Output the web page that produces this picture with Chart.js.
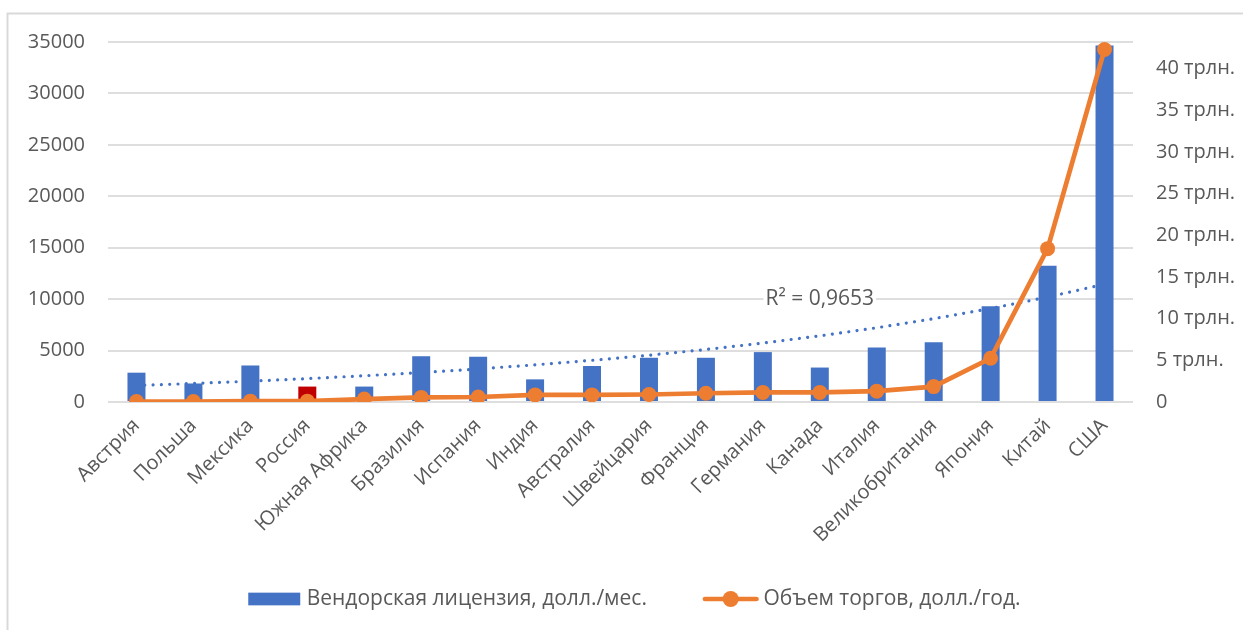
<!DOCTYPE html>
<html>
<head>
<meta charset="utf-8">
<script src="https://cdn.jsdelivr.net/npm/chart.js@4.4.1/dist/chart.umd.min.js"></script>
<style>
  html, body { margin: 0; padding: 0; background: #ffffff; }
  #wrap { width: 1243px; height: 630px; position: relative; }
</style>
</head>
<body>
<div id="wrap"><canvas id="chart" width="1243" height="630"></canvas></div>
<script>
// Countries, ordered by trading volume
const countries = [
  'Австрия', 'Польша', 'Мексика', 'Россия', 'Южная Африка', 'Бразилия',
  'Испания', 'Индия', 'Австралия', 'Швейцария', 'Франция', 'Германия',
  'Канада', 'Италия', 'Великобритания', 'Япония', 'Китай', 'США'
];

// Vendor licence, USD per month (left axis)
const vendorLicense = [
  2850, 1800, 3550, 1500, 1500, 4450,
  4400, 2200, 3500, 4300, 4300, 4850,
  3350, 5300, 5800, 9300, 13250, 34650
];

// Trading volume, USD trillion per year (right axis)
const tradeVolumeTrln = [
  0.05, 0.05, 0.1, 0.1, 0.35, 0.55,
  0.6, 0.85, 0.85, 0.9, 1.05, 1.15,
  1.15, 1.3, 1.85, 5.25, 18.4, 42.3
];

const leftTicks = [0, 5000, 10000, 15000, 20000, 25000, 30000, 35000];
const rightTicks = [0, 5, 10, 15, 20, 25, 30, 35, 40];
const rightUnit = 'трлн.';
const highlighted = 'Россия';
const seriesNames = ['Вендорская лицензия, долл./мес.', 'Объем торгов, долл./год.'];
const trendLabel = 'R² = 0,9653';

const BLUE = '#4472C4';
const RED = '#C00000';
const ORANGE = '#ED7D31';
const TEXT = '#595959';
const GRID = '#dedede';
const FONT = "'Open Sans', 'Noto Sans', sans-serif";

// Exponential least-squares trend (y = a·e^(bx)) over the licence values
function exponentialTrend(values) {
  const n = values.length;
  let sx = 0, sy = 0, sxx = 0, sxy = 0;
  values.forEach((v, i) => {
    const x = i + 1, ly = Math.log(v);
    sx += x; sy += ly; sxx += x * x; sxy += x * ly;
  });
  const b = (n * sxy - sx * sy) / (n * sxx - sx * sx);
  const a = (sy - b * sx) / n;
  return values.map((_, i) => Math.exp(a + b * (i + 1)));
}
const licenseTrend = exponentialTrend(vendorLicense);

// Legend markers
function boxIcon() {
  const c = document.createElement('canvas');
  c.width = 64; c.height = 18;
  const g = c.getContext('2d');
  g.fillStyle = BLUE;
  g.fillRect(10, 2.65, 52, 12.7);
  return c;
}
function lineIcon() {
  const c = document.createElement('canvas');
  c.width = 64; c.height = 18;
  const g = c.getContext('2d');
  g.strokeStyle = ORANGE;
  g.lineWidth = 4.7;
  g.lineCap = 'round';
  g.beginPath(); g.moveTo(10, 9); g.lineTo(61.5, 9); g.stroke();
  g.fillStyle = ORANGE;
  g.beginPath(); g.arc(35.75, 9, 8, 0, Math.PI * 2); g.fill();
  return c;
}

// Outer frame of the chart object
const framePlugin = {
  id: 'frame',
  beforeDraw(chart) {
    const ctx = chart.ctx;
    ctx.save();
    ctx.strokeStyle = '#d9d9d9';
    ctx.lineWidth = 2;
    ctx.beginPath();
    ctx.moveTo(7.5, chart.height);
    ctx.lineTo(7.5, 13.5);
    ctx.lineTo(chart.width, 13.5);
    ctx.stroke();
    ctx.restore();
  }
};

// Trend line caption with a white backing
const trendLabelPlugin = {
  id: 'trendLabel',
  afterDatasetsDraw(chart) {
    const ctx = chart.ctx;
    const x = chart.scales.x.getPixelForValue(countries.indexOf('Канада'));
    const y = chart.scales.y.getPixelForValue(10000);
    ctx.save();
    ctx.font = '21px ' + FONT;
    const w = ctx.measureText(trendLabel).width;
    ctx.fillStyle = '#ffffff';
    ctx.fillRect(x - w / 2 - 2, y - 13, w + 4, 26);
    ctx.fillStyle = TEXT;
    ctx.textAlign = 'center';
    ctx.textBaseline = 'middle';
    ctx.fillText(trendLabel, x, y);
    ctx.restore();
  }
};

// Place the legend row
const legendPlacePlugin = {
  id: 'legendPlace',
  afterLayout(chart) {
    const lg = chart.legend;
    if (!lg) return;
    const w = lg.width, h = lg.height;
    lg.left = 190.2; lg.right = 190.2 + w;
    lg.top = 534.5; lg.bottom = 534.5 + h;
  }
};

new Chart(document.getElementById('chart'), {
  type: 'bar',
  data: {
    labels: countries,
    datasets: [
      {
        type: 'bar',
        label: seriesNames[0],
        data: vendorLicense,
        yAxisID: 'y',
        backgroundColor: countries.map(c => c === highlighted ? RED : BLUE),
        borderWidth: 0,
        categoryPercentage: 1,
        barPercentage: 0.316,
        order: 1
      },
      {
        type: 'line',
        label: seriesNames[1],
        data: tradeVolumeTrln,
        yAxisID: 'y2',
        borderColor: ORANGE,
        backgroundColor: ORANGE,
        borderWidth: 4.7,
        pointRadius: 7.5,
        pointHoverRadius: 7.5,
        pointBorderWidth: 0,
        pointBackgroundColor: ORANGE,
        tension: 0,
        order: 0
      },
      {
        type: 'line',
        label: 'trend',
        data: licenseTrend,
        yAxisID: 'y',
        borderColor: BLUE,
        borderWidth: 3.2,
        borderDash: [0.01, 8.3],
        borderCapStyle: 'round',
        pointRadius: 0,
        fill: false,
        tension: 0,
        order: 2
      }
    ]
  },
  options: {
    responsive: false,
    devicePixelRatio: 1,
    animation: false,
    layout: { padding: { top: 42, left: 0, right: 0, bottom: 0 } },
    plugins: {
      tooltip: { enabled: false },
      legend: {
        position: 'bottom',
        align: 'start',
        labels: {
          usePointStyle: true,
          pointStyleWidth: 52,
          padding: 54,
          color: TEXT,
          font: { family: FONT, size: 21 },
          generateLabels() {
            return [
              { text: seriesNames[0], pointStyle: boxIcon(), fontColor: TEXT, lineWidth: 0, datasetIndex: 0, hidden: false },
              { text: seriesNames[1], pointStyle: lineIcon(), fontColor: TEXT, lineWidth: 0, datasetIndex: 1, hidden: false }
            ];
          }
        }
      }
    },
    scales: {
      x: {
        grid: { display: false },
        border: { display: false },
        ticks: {
          autoSkip: false,
          minRotation: 45,
          maxRotation: 45,
          padding: 4,
          color: TEXT,
          font: { family: FONT, size: 20 }
        },
        afterFit(s) { s.height = 630 - 402 - s.chart.legend.height; }
      },
      y: {
        position: 'left',
        min: 0,
        max: 35000,
        afterBuildTicks(s) { s.ticks = leftTicks.map(v => ({ value: v })); },
        grid: { color: GRID, lineWidth: 2, drawTicks: false },
        border: { display: false },
        ticks: {
          padding: 23,
          color: TEXT,
          font: { family: FONT, size: 20 },
          callback: v => String(v)
        },
        afterFit(s) { s.width = 108; }
      },
      y2: {
        position: 'right',
        min: 0,
        max: 43.2,
        afterBuildTicks(s) { s.ticks = rightTicks.map(v => ({ value: v })); },
        grid: { display: false, drawTicks: false },
        border: { display: false },
        ticks: {
          padding: 23,
          color: TEXT,
          font: { family: FONT, size: 20 },
          callback: v => v === 0 ? '0' : v + ' ' + rightUnit
        },
        afterFit(s) { s.width = 110; }
      }
    }
  },
  plugins: [framePlugin, trendLabelPlugin, legendPlacePlugin]
});
</script>
</body>
</html>
